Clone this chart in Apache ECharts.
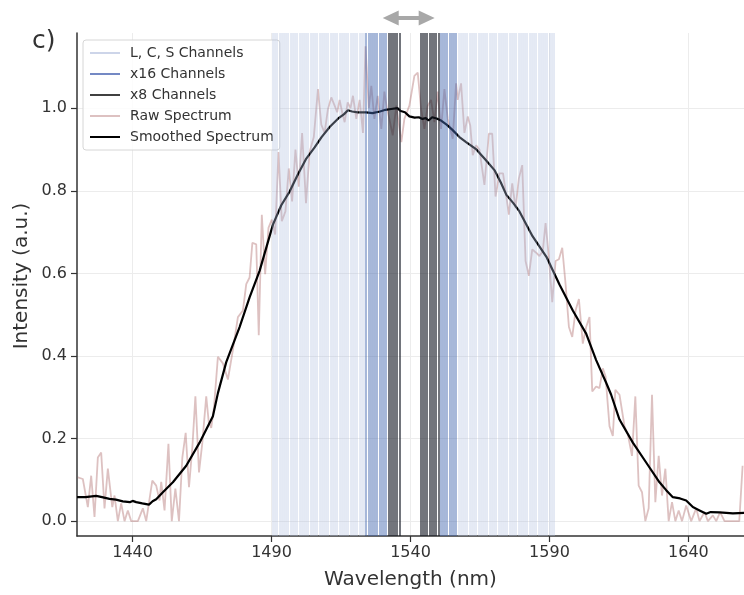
<!DOCTYPE html>
<html><head><meta charset="utf-8">
<script src="https://cdn.jsdelivr.net/npm/echarts@6/dist/echarts.min.js"></script>
<style>html,body{margin:0;padding:0;background:#fff}#c{width:744px;height:595px}</style>
</head><body><div id="c"></div>
<script>
const xTicks = [1440, 1490, 1540, 1590, 1640];
const yTicks = [0, 0.2, 0.4, 0.6, 0.8, 1.0];
const lcsChannels = [1490.4,1491.2,1492.0,1492.8,1493.6,1494.4,1495.2,1496.0,1496.8,1497.6,1498.4,1499.2,1500.0,1500.8,1501.6,1502.4,1503.2,1504.0,1504.8,1505.6,1506.4,1507.2,1508.0,1508.8,1509.6,1510.4,1511.2,1512.0,1512.8,1513.6,1514.4,1515.2,1516.0,1516.8,1517.6,1518.4,1519.2,1520.0,1520.8,1521.6,1522.4,1523.2,
  1557.2,1558.0,1558.8,1559.6,1560.4,1561.2,1562.0,1562.8,1563.6,1564.4,1565.2,1566.0,1566.8,1567.6,1568.4,1569.2,1570.0,1570.8,1571.6,1572.4,1573.2,1574.0,1574.8,1575.6,1576.4,1577.2,1578.0,1578.8,1579.6,1580.4,1581.2,1582.0,1582.8,1583.6,1584.4,1585.2,1586.0,1586.8,1587.6,1588.4,1589.2,1590.0,1590.8,1591.6];
const x16Channels = [1524.0,1524.8,1525.6,1526.4,1527.2,1528.0,1528.8,1529.6,1530.4,1531.2,
  1550.8,1551.6,1552.4,1553.2,1554.0,1554.8,1555.6,1556.4];
const x8Channels = [1532.0,1532.8,1533.6,1534.4,1535.2,1536.0,
  1543.6,1544.4,1545.2,1546.0,1546.8,1547.6,1548.4,1549.2,1550.0];
const rawWavelength = [1420.3,1422.1,1423.9,1425.1,1426.3,1427.5,1428.7,1429.9,1431.1,1432.7,1433.5,1434.7,1435.9,1437.1,1438.3,1439.5,1440.7,1441.9,1443.7,1444.9,1447.1,1448.5,1449.7,1450.3,1451.5,1452.9,1454.1,1455.4,1456.7,1457.9,1459.1,1460.3,1461.5,1462.6,1463.9,1465.1,1466.5,1467.4,1468.3,1469.3,1470.7,1472.5,1474.3,1476.1,1477.9,1479.7,1480.9,1482.1,1483.1,1484.5,1485.4,1486.5,1487.7,1488.9,1490.1,1491.3,1492.5,1493.7,1495.0,1496.2,1497.4,1498.6,1499.8,1501.0,1502.4,1503.7,1505.2,1506.7,1507.9,1509.1,1510.3,1511.5,1512.7,1513.6,1514.5,1515.4,1516.3,1517.4,1518.4,1519.3,1520.5,1521.7,1522.9,1523.8,1525.0,1525.9,1527.0,1528.2,1529.5,1530.6,1531.5,1532.4,1533.6,1534.9,1536.7,1537.8,1538.7,1539.6,1541.4,1542.6,1543.8,1545.0,1546.2,1547.4,1548.6,1549.8,1551.0,1552.2,1553.4,1554.3,1555.2,1556.4,1557.0,1558.2,1559.4,1560.6,1561.5,1562.4,1563.6,1564.8,1566.6,1568.2,1569.4,1570.6,1572.0,1573.3,1575.4,1576.6,1577.8,1579.0,1580.2,1581.4,1582.6,1583.8,1585.2,1586.4,1587.6,1588.6,1589.8,1591.0,1592.2,1593.4,1594.6,1595.8,1597.0,1598.2,1599.4,1600.6,1602.0,1603.2,1604.4,1605.4,1606.8,1608.0,1609.2,1610.2,1611.6,1612.8,1613.7,1615.2,1617.0,1618.2,1619.7,1620.9,1622.1,1623.3,1624.5,1625.7,1626.9,1628.1,1629.3,1630.5,1631.7,1632.9,1634.1,1635.3,1636.5,1637.7,1639.2,1641.0,1642.8,1644.0,1645.8,1647.0,1648.8,1650.0,1651.4,1653.0,1656.5,1658.3,1659.5];
const rawIntensity = [0.106,0.102,0.034,0.11,0.01,0.154,0.166,0.031,0.127,0.034,0.062,0,0.043,0,0.026,0,0,0,0.031,0,0.098,0.086,0.05,0.095,0.026,0.187,0,0.079,0,0.154,0.214,0.082,0.178,0.302,0.118,0.19,0.302,0.24,0.226,0.276,0.398,0.382,0.343,0.415,0.494,0.51,0.574,0.59,0.674,0.67,0.45,0.742,0.598,0.71,0.73,0.694,0.894,0.726,0.75,0.854,0.774,0.9,0.81,0.94,0.77,0.894,0.93,1.046,0.96,0.94,0.998,1.026,1.006,0.99,1.02,0.99,0.966,1.014,1.0,1.03,0.974,1.02,0.94,1.15,1.0,1.054,0.974,1.03,0.95,1.04,1.0,0.974,0.934,1.006,0.918,0.974,0.99,1.006,1.078,1.086,0.998,0.95,1.006,1.02,0.966,1.04,0.95,1.046,0.974,0.95,0.926,1.06,1.02,1.06,0.94,0.98,0.958,0.886,0.91,0.9,0.814,0.938,0.938,0.786,0.842,0.842,0.742,0.818,0.758,0.83,0.862,0.63,0.594,0.658,0.65,0.642,0.654,0.722,0.638,0.53,0.63,0.634,0.662,0.574,0.47,0.446,0.51,0.538,0.43,0.47,0.494,0.314,0.326,0.322,0.37,0.35,0.23,0.206,0.318,0.306,0.23,0.21,0.158,0.302,0.086,0.07,0,0.031,0.306,0.046,0.158,0.062,0.127,0,0.046,0,0.026,0,0.038,0,0.031,0,0.022,0,0.014,0,0.022,0,0,0,0.134];
const smoothWavelength = [1420,1423,1426.9,1429,1431.7,1434,1436.5,1439,1440,1441.3,1443.5,1445.9,1447.2,1448.5,1450.9,1454.5,1459.3,1464.1,1468.9,1470.7,1473.7,1478.5,1482.1,1485.7,1490.5,1493.5,1496.5,1499.5,1502.5,1505.5,1508,1511,1514,1516,1517.5,1519,1521,1524,1526.3,1529,1531,1533,1535.3,1536.5,1538,1539.6,1541.5,1543,1544.3,1545.5,1546.5,1547.8,1549.4,1551,1553,1555,1557.6,1560,1563.7,1567,1570.2,1572.5,1574.5,1577,1579.2,1583.9,1588.9,1593.6,1598.4,1603.2,1606.8,1610.4,1612.2,1615.2,1620,1624.8,1629.6,1632,1634.4,1637,1639.2,1641.6,1644,1646.4,1648,1651.2,1656,1660];
const smoothIntensity = [0.058,0.058,0.061,0.058,0.054,0.052,0.048,0.046,0.049,0.046,0.043,0.040,0.048,0.053,0.07,0.094,0.134,0.19,0.254,0.31,0.385,0.47,0.542,0.606,0.718,0.765,0.798,0.84,0.878,0.905,0.93,0.955,0.975,0.985,0.995,0.992,0.99,0.99,0.988,0.992,0.996,0.998,1.0,0.993,0.99,0.98,0.977,0.978,0.974,0.976,0.97,0.978,0.975,0.97,0.96,0.948,0.93,0.918,0.90,0.875,0.85,0.82,0.79,0.77,0.75,0.69,0.64,0.573,0.51,0.454,0.39,0.335,0.306,0.246,0.19,0.142,0.094,0.075,0.058,0.055,0.05,0.034,0.026,0.018,0.022,0.021,0.019,0.02];
const arrowSpan = [1530, 1548.7];

const FONT = 'DejaVu Sans';
const TXT = '#333';
function zip(a, b) { return a.map((v, i) => [v, b[i]]); }
function channelSeries(name, chans, legendColor, legendWidth, lineColor) {
  return {
    name, type: 'line', data: [], symbol: 'none', z: 1,
    lineStyle: { color: legendColor, width: legendWidth }, itemStyle: { color: legendColor },
    markLine: {
      silent: true, symbol: ['none', 'none'], label: { show: false },
      emphasis: { disabled: true }, animation: false,
      lineStyle: { color: lineColor, width: 1.6, type: 'solid' },
      data: chans.map(w => ({ xAxis: w }))
    }
  };
}
const chart = echarts.init(document.getElementById('c'), null, { renderer: 'canvas' });
chart.setOption({
  animation: false,
  backgroundColor: '#fff',
  grid: { left: 77, right: 0, top: 33, bottom: 54, containLabel: false },
  legend: {
    orient: 'vertical', left: 83, top: 40, padding: [6, 6, 6, 6],
    itemWidth: 30, itemHeight: 12, itemGap: 7,
    itemStyle: { opacity: 0 },
    backgroundColor: 'rgba(255,255,255,0.85)', borderColor: '#d6d6d6', borderWidth: 1, borderRadius: 3,
    textStyle: { fontFamily: FONT, fontSize: 14, color: TXT, padding: [0, 0, 0, 5] },
    data: ['L, C, S Channels', 'x16 Channels', 'x8 Channels', 'Raw Spectrum', 'Smoothed Spectrum']
  },
  xAxis: {
    type: 'value', min: 1420, max: 1660,
    name: 'Wavelength (nm)', nameLocation: 'middle', nameGap: 34,
    nameTextStyle: { fontFamily: FONT, fontSize: 20, color: TXT },
    axisLine: { onZero: false, lineStyle: { color: '#333', width: 1.5 } },
    axisTick: { show: true, length: 6, customValues: xTicks, lineStyle: { color: '#333', width: 1.2 } },
    axisLabel: { customValues: xTicks, fontFamily: FONT, fontSize: 16, color: TXT, margin: 9,
      formatter: v => String(v) },
    splitLine: { show: true, lineStyle: { color: '#ececec', width: 1 } }
  },
  yAxis: {
    type: 'value', min: -0.036, max: 1.182,
    axisLine: { show: true, onZero: false, lineStyle: { color: '#333', width: 1.5 } },
    axisTick: { show: true, length: 6, customValues: yTicks, lineStyle: { color: '#333', width: 1.2 } },
    axisLabel: { customValues: yTicks, fontFamily: FONT, fontSize: 16, color: TXT, margin: 10,
      formatter: v => v.toFixed(1) },
    splitLine: { show: true, lineStyle: { color: '#ececec', width: 1 } }
  },
  series: [
    channelSeries('L, C, S Channels', lcsChannels, '#cdd5e9', 1.5, 'rgba(176,190,222,0.42)'),
    channelSeries('x16 Channels', x16Channels, '#7489c4', 1.5, 'rgba(70,105,175,0.6)'),
    channelSeries('x8 Channels', x8Channels, '#404040', 1.2, 'rgba(20,24,36,0.75)'),
    { name: 'Raw Spectrum', type: 'line', data: zip(rawWavelength, rawIntensity), symbol: 'none', z: 3,
      lineStyle: { color: 'rgba(170,100,100,0.4)', width: 1.8 }, itemStyle: { color: 'rgba(170,100,100,0.4)' } },
    { name: 'Smoothed Spectrum', type: 'line', data: zip(smoothWavelength, smoothIntensity), symbol: 'none', z: 4,
      lineStyle: { color: '#000', width: 2.2 }, itemStyle: { color: '#000' } }
  ]
});
const xa = chart.convertToPixel({ xAxisIndex: 0 }, arrowSpan[0]);
const xb = chart.convertToPixel({ xAxisIndex: 0 }, arrowSpan[1]);
const ay = 18, hl = 16, hh = 7.5, sh = 2;
chart.setOption({
  graphic: [
    { type: 'text', left: 32, top: 29, style: { text: 'c)', font: '25px "DejaVu Sans"', fill: TXT } },
    { type: 'text', x: 22, y: 276, rotation: Math.PI / 2,
      style: { text: 'Intensity (a.u.)', font: '20px "DejaVu Sans"', fill: TXT, align: 'center', verticalAlign: 'middle' } },
    { type: 'polygon', shape: { points: [[xa, ay], [xa + hl, ay - hh], [xa + hl, ay - sh], [xb - hl, ay - sh], [xb - hl, ay - hh], [xb, ay], [xb - hl, ay + hh], [xb - hl, ay + sh], [xa + hl, ay + sh], [xa + hl, ay + hh]] },
      style: { fill: '#a8a8a8' } }
  ]
});
</script></body></html>
